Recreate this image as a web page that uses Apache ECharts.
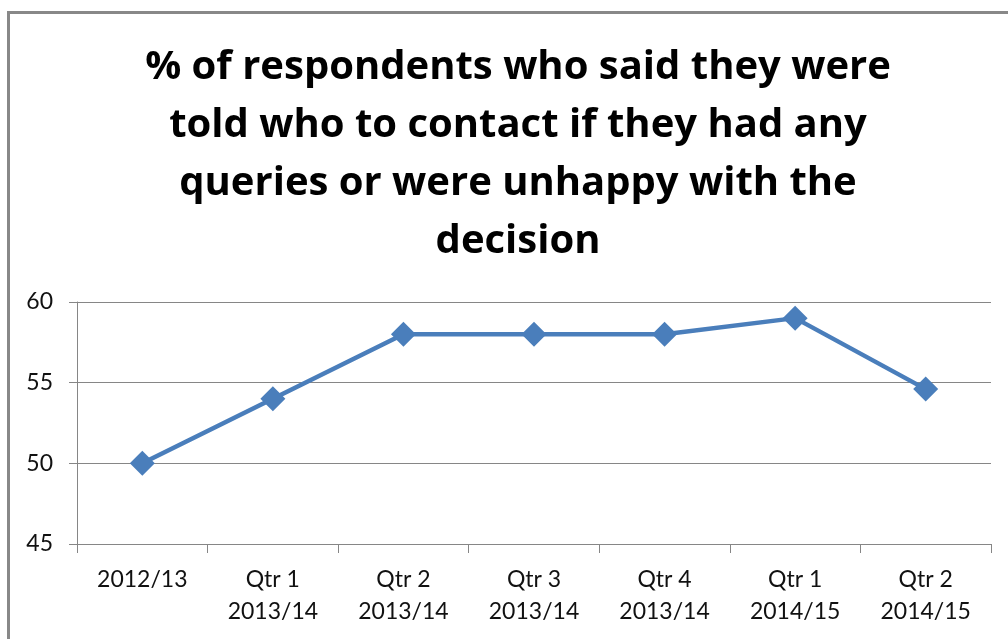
<!DOCTYPE html>
<html>
<head>
<meta charset="utf-8">
<script src="https://cdn.jsdelivr.net/npm/echarts@6/dist/echarts.min.js"></script>
<style>
  html, body { margin: 0; padding: 0; background: #fff; }
  #chart { width: 1008px; height: 639px; }
</style>
</head>
<body>
<div id="chart"></div>
<script>
// chart data
const titleText = '% of respondents who said they were\ntold who to contact if they had any\nqueries or were unhappy with the\ndecision';
const categories = ['2012/13', 'Qtr 1\n2013/14', 'Qtr 2\n2013/14', 'Qtr 3\n2013/14', 'Qtr 4\n2013/14', 'Qtr 1\n2014/15', 'Qtr 2\n2014/15'];
const values = [50, 54, 58, 58, 58, 59, 54.6];
const yMin = 45, yMax = 60, yStep = 5;

const chart = echarts.init(document.getElementById('chart'), null, { renderer: 'canvas' });

chart.setOption({
    backgroundColor: '#fff',
    animation: false,
    title: {
        text: titleText,
        left: 513,
        textAlign: 'center',
        top: 34,
        textStyle: {
            fontFamily: 'Open Sans',
            fontWeight: 'bold',
            fontSize: 40,
            lineHeight: 58,
            color: '#000',
        },
    },
    // outer frame of the chart area (right and bottom edges fall off the page)
    graphic: [{
        type: 'rect',
        shape: { x: 8.5, y: 12.5, width: 1100, height: 700 },
        style: { fill: 'none', stroke: '#888', lineWidth: 3 },
        silent: true,
    }],
    grid: { left: 77, right: 17, top: 302, bottom: 95, containLabel: false },
    xAxis: {
        type: 'category',
        data: categories,
        boundaryGap: true,
        axisLine: { show: true, lineStyle: { color: '#868686', width: 1 } },
        axisTick: { show: true, length: 9, lineStyle: { color: '#868686' } },
        axisLabel: {
            color: '#111',
            fontFamily: 'Lato',
            fontSize: 23,
            lineHeight: 32,
            margin: 20,
            interval: 0,
        },
        splitLine: { show: false },
    },
    yAxis: {
        type: 'value',
        min: yMin,
        max: yMax,
        interval: yStep,
        axisLine: { show: true, lineStyle: { color: '#868686', width: 1 } },
        axisTick: { show: true, length: 8, lineStyle: { color: '#868686' } },
        axisLabel: {
            color: '#111',
            fontFamily: 'Lato',
            fontSize: 23,
            margin: 24,
        },
        splitLine: { show: true, lineStyle: { color: '#868686', width: 1 } },
    },
    series: [{
        type: 'line',
        data: values,
        symbol: 'diamond',
        symbolSize: 25,
        lineStyle: { color: '#4A7EBB', width: 4.5 },
        itemStyle: { color: '#4A7EBB' },
    }],
});
</script>
</body>
</html>
